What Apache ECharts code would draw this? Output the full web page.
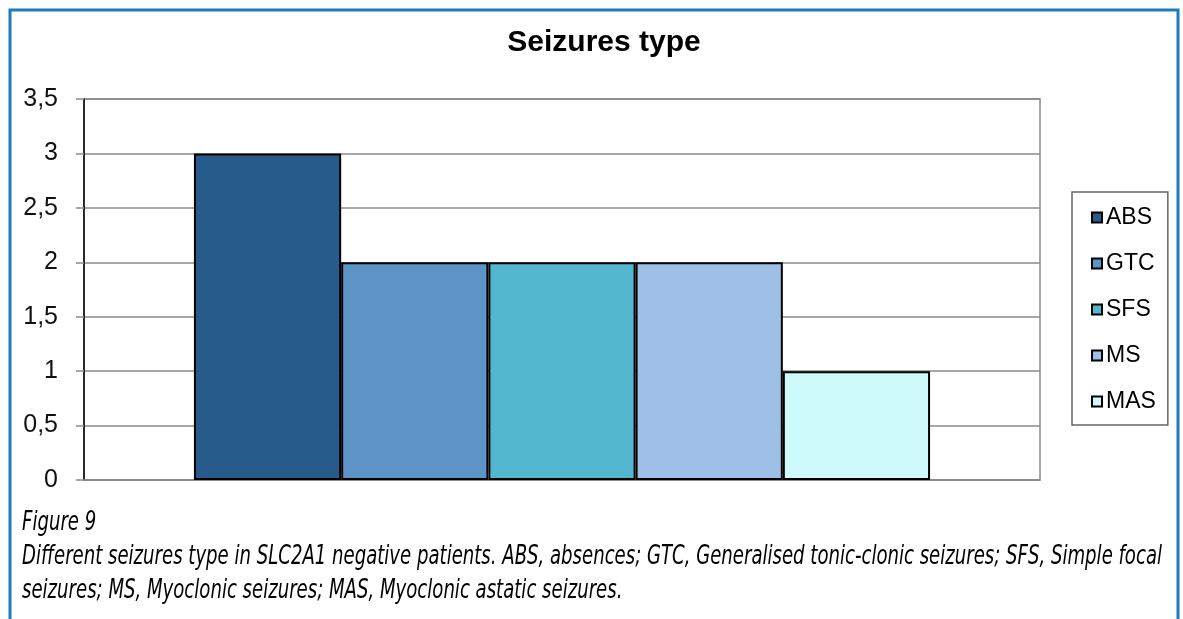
<!DOCTYPE html>
<html>
<head>
<meta charset="utf-8">
<title>Seizures type</title>
<script src="https://cdn.jsdelivr.net/npm/echarts@6/dist/echarts.min.js"></script>
<style>
html,body{margin:0;padding:0;background:#fff;}
#main{width:1183px;height:619px;}
</style>
</head>
<body>
<div id="main"></div>
<script>
// 发作类型（图例）及病人数
var seizureTypes = ['ABS', 'GTC', 'SFS', 'MS', 'MAS'];
var patientCounts = [3, 2, 2, 2, 1];
var barColors = ['#275b8c', '#5e93c6', '#53b7cf', '#9fc0e6', '#cffafc'];
// y轴刻度文字（逗号小数）
var yTickLabels = ['0', '0,5', '1', '1,5', '2', '2,5', '3', '3,5'];
var chartTitle = 'Seizures type';
var captionLines = [
    'Figure 9',
    'Different seizures type in SLC2A1 negative patients. ABS, absences; GTC, Generalised tonic-clonic seizures; SFS, Simple focal',
    'seizures; MS, Myoclonic seizures; MAS, Myoclonic astatic seizures.'
];

var captionFont = 'italic 27px "Liberation Sans Narrow", "DejaVu Sans Condensed", sans-serif';

/*
 * 量一下说明文字宽度，压缩到原图的宽度
 * */
function captionScale(text, target){
    var ctx = document.createElement('canvas').getContext('2d');
    ctx.font = captionFont;
    return target / ctx.measureText(text).width;
}

function build_series(){
    var list = [];
    for(var i=0;i<seizureTypes.length;i++){
        list.push({
            name: seizureTypes[i],
            type: 'bar',
            data: [patientCounts[i]],
            barGap: '0%',
            barCategoryGap: '23%',
            itemStyle: {
                color: barColors[i],
                borderColor: '#000',
                borderWidth: 2
            }
        });
    }
    return list;
}

function build_graphic(){
    var sx = captionScale(captionLines[1], 1140);
    var items = [
        { //蓝色外框
            type: 'rect',
            shape: {x: 10, y: 10, width: 1168, height: 640},
            style: {fill: 'none', stroke: '#1b7cbf', lineWidth: 3},
            silent: true
        },
        {
            type: 'text',
            x: 604, y: 43,
            style: {
                text: chartTitle,
                font: 'bold 30px "Liberation Sans", Arial, sans-serif',
                fill: '#000',
                align: 'center',
                verticalAlign: 'middle'
            }
        }
    ];
    var baselines = [536, 570, 604];
    for(var i=0;i<captionLines.length;i++){
        items.push({
            type: 'text',
            x: 22, y: baselines[i],
            scaleX: sx,
            style: {
                text: captionLines[i],
                font: captionFont,
                fill: '#000',
                align: 'left',
                verticalAlign: 'bottom'
            }
        });
    }
    return items;
}

(function(){
    var chart = echarts.init(document.getElementById('main'));
    var option = {
        animation: false,
        backgroundColor: '#fff',
        grid: {
            left: 84, right: 143, top: 99, bottom: 139,
            show: true,
            borderColor: '#8a8a8a',
            borderWidth: 1.5
        },
        legend: {
            orient: 'vertical',
            left: 1072, top: 192,
            padding: [14, 12, 12, 19],
            itemGap: 23,
            itemWidth: 10, itemHeight: 10,
            icon: 'rect',
            borderColor: '#666',
            borderWidth: 1.5,
            data: seizureTypes,
            itemStyle: {borderWidth: 2, borderColor: '#000'},
            textStyle: {
                fontFamily: '"Liberation Sans", Arial, sans-serif',
                fontSize: 23,
                color: '#000',
                padding: [0, 0, 0, -1]
            }
        },
        xAxis: {
            type: 'category',
            data: [''],
            axisLine: {show: true, lineStyle: {color: '#8a8a8a', width: 1.5}},
            axisTick: {show: false},
            axisLabel: {show: false}
        },
        yAxis: {
            type: 'value',
            min: 0, max: 3.5, interval: 0.5,
            axisLine: {show: true, lineStyle: {color: '#000', width: 1.5}},
            axisTick: {show: true, length: 8, lineStyle: {color: '#8a8a8a', width: 1.5}},
            splitLine: {show: true, lineStyle: {color: '#8a8a8a', width: 1.5}},
            axisLabel: {
                margin: 26,
                fontSize: 25,
                fontFamily: '"Liberation Sans", Arial, sans-serif',
                color: '#111',
                formatter: function(v){ return yTickLabels[Math.round(v / 0.5)]; }
            }
        },
        series: build_series(),
        graphic: build_graphic()
    };
    chart.setOption(option);
})();
</script>
</body>
</html>
